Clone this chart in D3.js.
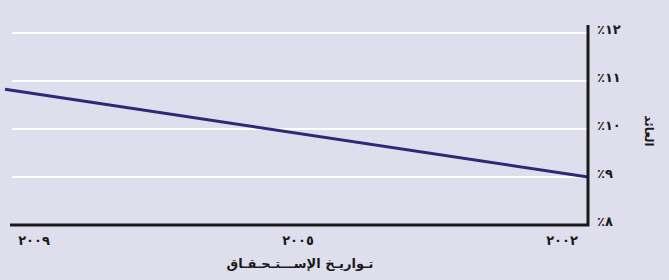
<!DOCTYPE html>
<html>
<head>
<meta charset="utf-8">
<script src="https://cdn.jsdelivr.net/npm/d3@7"></script>
<style>
  body { margin: 0; background: #dfdeec; }
  svg text { font-family: "DejaVu Sans", sans-serif; font-weight: bold; fill: #1a1a1a; }
</style>
</head>
<body>
<div class="chart"></div>
<script>
// yield curve
const years = [2009, 2002];
const yields = [10.83, 9.0];
const yearLabels = ['٢٠٠٩', '٢٠٠٥', '٢٠٠٢'];
const yTicks = [8, 9, 10, 11, 12];
const yTickLabels = ['٪٨', '٪٩', '٪١٠', '٪١١', '٪١٢'];

const width = 669;
const height = 280;

const svg = d3.select('.chart')
  .append('svg')
  .attr('width', width)
  .attr('height', height)

svg.append('rect')
  .attr('width', width)
  .attr('height', height)
  .attr('fill', '#dfdeec')

const x = d3.scaleLinear().domain([2009, 2002]).range([5, 588]);
const xLab = d3.scalePoint().domain(yearLabels).range([34, 562]);
const y = d3.scaleLinear().domain([8, 12]).range([225, 33]);

// white grid lines
svg.selectAll('line.grid')
  .data(yTicks.filter(d => d > 8))
  .enter()
  .append('line')
  .attr('class', 'grid')
  .attr('x1', 12)
  .attr('x2', 588)
  .attr('y1', d => y(d))
  .attr('y2', d => y(d))
  .attr('stroke', '#fff')
  .attr('stroke-width', 2)

// the line
const data = years.map((d, i) => ({year: d, v: yields[i]}));
svg.append('path')
  .datum(data)
  .attr('d', d3.line().x(d => x(d.year)).y(d => y(d.v)))
  .attr('fill', 'none')
  .attr('stroke', '#2e2878')
  .attr('stroke-width', 3)

// axes (black frame, right + bottom)
svg.append('path')
  .attr('d', `M10,${y(8)}H${x(2002)}V25`)
  .attr('fill', 'none')
  .attr('stroke', '#1a1a1a')
  .attr('stroke-width', 3)

svg.selectAll('text.ytick')
  .data(yTicks)
  .enter()
  .append('text')
  .attr('class', 'ytick')
  .attr('x', 597)
  .attr('y', d => y(d) - 4)
  .attr('dy', '0.35em')
  .attr('font-size', 13)
  .attr('direction', 'ltr')
  .text((d, i) => yTickLabels[i])

svg.selectAll('text.xtick')
  .data(yearLabels)
  .enter()
  .append('text')
  .attr('class', 'xtick')
  .attr('x', d => xLab(d))
  .attr('y', 245)
  .attr('font-size', 13)
  .attr('text-anchor', 'middle')
  .attr('direction', 'ltr')
  .text(d => d)

svg.append('text')
  .attr('x', 300)
  .attr('y', 268)
  .attr('font-size', 13)
  .attr('text-anchor', 'middle')
  .text('تـواريـخ الإســـتـحـقـاق')

svg.append('text')
  .attr('transform', 'translate(645,131) rotate(90)')
  .attr('font-size', 12)
  .attr('text-anchor', 'middle')
  .text('العائد')
</script>
</body>
</html>
